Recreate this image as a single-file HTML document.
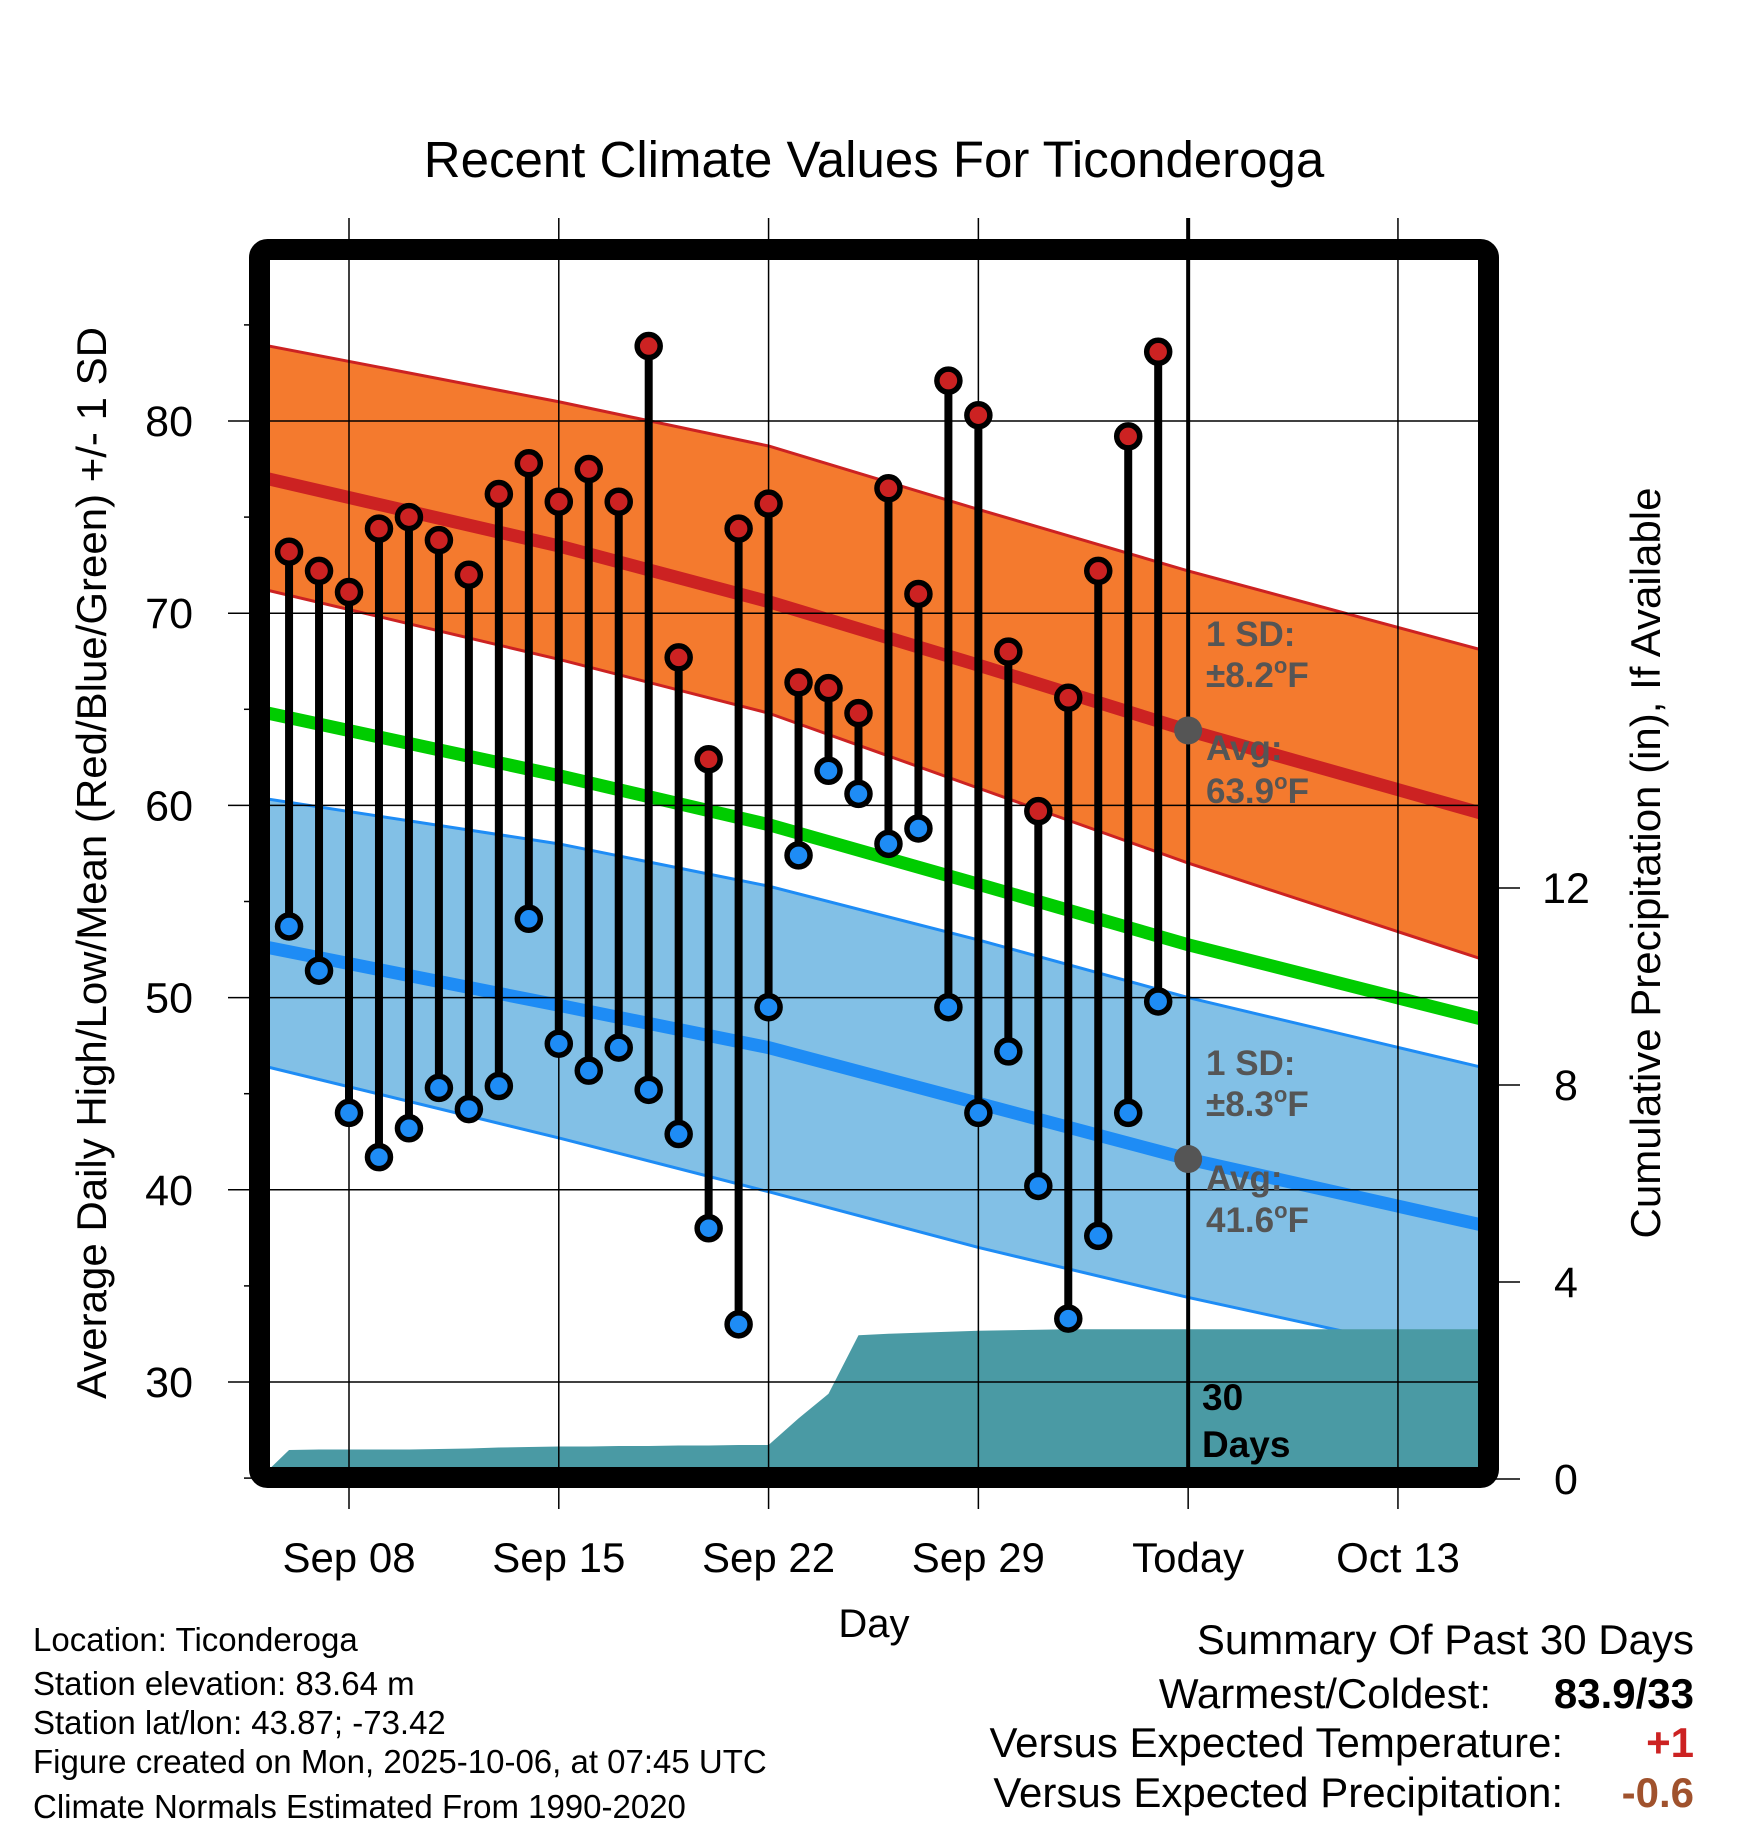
<!DOCTYPE html>
<html><head><meta charset="utf-8">
<style>
html,body{margin:0;padding:0;background:#fff;}
svg{display:block;font-family:"Liberation Sans",Arial,sans-serif;}
</style></head>
<body>
<svg id="chart" width="1748" height="1828" viewBox="0 0 1748 1828" xmlns="http://www.w3.org/2000/svg">
<defs><clipPath id="plotclip"><rect x="270" y="260" width="1208" height="1208"/></clipPath></defs>
<g id="bands" clip-path="url(#plotclip)"></g>
<g id="grid"></g>
<g id="marks"></g>
<g id="frame"></g>
<g id="labels"></g>
</svg>
<script>
// ---- data ----
const days = [6,7,8,9,10,11,12,13,14,15,16,17,18,19,20,21,22,23,24,25,26,27,28,29,30,31,32,33,34,35];
const highs = [73.2,72.2,71.1,74.4,75.0,73.8,72.0,76.2,77.8,75.8,77.5,75.8,83.9,67.7,62.4,74.4,75.7,66.4,66.1,64.8,76.5,71.0,82.1,80.3,68.0,59.7,65.6,72.2,79.2,83.6];
const lows = [53.7,51.4,44.0,41.7,43.2,45.3,44.2,45.4,54.1,47.6,46.2,47.4,45.2,42.9,38.0,33.0,49.5,57.4,61.8,60.6,58.0,58.8,49.5,44.0,47.2,40.2,33.3,37.6,44.0,49.8];
const precipDays = [5,6,7,8,9,10,11,12,13,14,15,16,17,18,19,20,21,22,23,24,25,26,27,28,29,30,31,32,33,34,35,46];
const precip = [0,0.59,0.6,0.6,0.6,0.6,0.61,0.62,0.64,0.65,0.66,0.66,0.67,0.67,0.68,0.68,0.69,0.69,1.23,1.73,2.92,2.95,2.97,2.99,3.01,3.02,3.03,3.04,3.04,3.04,3.04,3.04];
const normDays = [5,15,22,29,36,46];
const normHigh = [77.1,73.5,70.6,67.3,63.9,59.5];
const highUpper = [84.0,81.0,78.7,75.4,72.2,68.0];
const highLower = [71.3,67.6,64.8,60.9,57.0,51.9];
const normLow = [52.7,49.6,47.4,44.5,41.6,38.1];
const lowUpper = [60.4,58.0,55.8,53.0,50.0,46.3];
const lowLower = [46.5,42.7,39.9,37.0,34.4,31.0];
const tempTicks = [30,40,50,60,70,80];
const precipTicks = [0,4,8,12];
const xTickDays = [8,15,22,29,36,43];
const xTickLabels = ["Sep 08","Sep 15","Sep 22","Sep 29","Today","Oct 13"];
const todayDay = 36;

// ---- axes ----
const X = d => 349 + (d-8)*29.97;
const Y = t => 421 + (80-t)*19.22;
const P = p => 1479 - p*49.25;
const NS = "http://www.w3.org/2000/svg";
function mk(tag, attrs, parent, text){
  const e = document.createElementNS(NS, tag);
  for (const k in attrs) e.setAttribute(k, attrs[k]);
  if (text !== undefined) e.textContent = text;
  parent.appendChild(e); return e;
}
const bands = document.getElementById('bands');
const grid = document.getElementById('grid');
const marks = document.getElementById('marks');
const frame = document.getElementById('frame');
const labels = document.getElementById('labels');
const R = 46;
function band(up, lo){
  const a = normDays.map((d,i)=>X(d)+','+Y(up[i]));
  const b = normDays.map((d,i)=>X(d)+','+Y(lo[i])).reverse();
  return a.concat(b).join(' ');
}
function line(vals){ return normDays.map((d,i)=>X(d)+','+Y(vals[i])).join(' '); }

let e;
e = mk('polygon',{points:band(highUpper,highLower),fill:'#f47a2e'},bands);
 
e = mk('polygon',{points:band(lowUpper,lowLower),fill:'#82c0e6'},bands);
 
[[highUpper,'#cc2222'],[highLower,'#cc2222'],[lowUpper,'#1e8cf5'],[lowLower,'#1e8cf5']].forEach(a=>{
  e = mk('polyline',{points:line(a[0]),fill:'none',stroke:a[1],'stroke-width':3},bands);
   
});
e = mk('polyline',{points:line(normHigh),fill:'none',stroke:'#cc2222','stroke-width':13},bands);
 
e = mk('polyline',{points:line(normLow),fill:'none',stroke:'#1e8cf5','stroke-width':13},bands);
 
const meanVals = normHigh.map((h,i)=>(h+normLow[i])/2);
e = mk('polyline',{points:line(meanVals),fill:'none',stroke:'#00cc00','stroke-width':13},bands);
 
const ppts = precipDays.map((d,i)=>X(d)+','+P(precip[i]));
ppts.push(X(R)+','+P(0)); ppts.push(X(precipDays[0])+','+P(0));
e = mk('polygon',{points:ppts.join(' '),fill:'#4a9aa4'},bands);
 

// grid
xTickDays.forEach(d=>{
  e = mk('line',{x1:X(d),x2:X(d),y1:218,y2:1509,stroke:'#000','stroke-width':1.5},grid);
   
});
tempTicks.forEach(t=>{
  e = mk('line',{x1:228,x2:1478,y1:Y(t),y2:Y(t),stroke:'#000','stroke-width':1.5},grid);
   
});
for (let t=25; t<=85; t+=10){
  e = mk('line',{x1:244,x2:260,y1:Y(t),y2:Y(t),stroke:'#000','stroke-width':1.5},grid);
   
}
precipTicks.forEach(p=>{
  e = mk('line',{x1:1490,x2:1520,y1:P(p),y2:P(p),stroke:'#000','stroke-width':1.5},grid);
   
});
e = mk('line',{x1:X(todayDay),x2:X(todayDay),y1:218,y2:1478,stroke:'#000','stroke-width':4},grid);
 

// stems and dots
days.forEach((d,i)=>{
  e = mk('line',{x1:X(d),x2:X(d),y1:Y(highs[i]),y2:Y(lows[i]),stroke:'#000','stroke-width':8},marks);
   
});
days.forEach((d,i)=>{
  e = mk('circle',{cx:X(d),cy:Y(highs[i]),r:11.5,fill:'#cc2222',stroke:'#000','stroke-width':5.5},marks);
   
  e = mk('circle',{cx:X(d),cy:Y(lows[i]),r:11.5,fill:'#1e8cf5',stroke:'#000','stroke-width':5.5},marks);
   
});
e = mk('circle',{cx:X(todayDay),cy:Y(normHigh[4]),r:14,fill:'#555'},marks);
 
e = mk('circle',{cx:X(todayDay),cy:Y(normLow[4]),r:14,fill:'#555'},marks);
 

// frame
e = mk('rect',{x:259.5,y:249.5,width:1229,height:1228,rx:8,fill:'none',stroke:'#000','stroke-width':21},frame);
 

// labels
tempTicks.forEach(t=>{
  e = mk('text',{x:193,y:Y(t)+15,'text-anchor':'end','font-size':43},labels,String(t));
   
});
precipTicks.forEach(p=>{
  e = mk('text',{x:1566,y:P(p)+15,'text-anchor':'middle','font-size':43},labels,String(p));
   
});
xTickDays.forEach((d,i)=>{
  e = mk('text',{x:X(d),y:1572,'text-anchor':'middle','font-size':42},labels,xTickLabels[i]);
   
});
</script>
<script>
const lab = document.getElementById('labels');
lab.insertAdjacentHTML('beforeend', `
<text x="874" y="177" text-anchor="middle" font-size="51">Recent Climate Values For Ticonderoga</text>
<text transform="translate(106,863) rotate(-90)" text-anchor="middle" font-size="42">Average Daily High/Low/Mean (Red/Blue/Green) +/- 1 SD</text>
<text transform="translate(1660,863) rotate(-90)" text-anchor="middle" font-size="42">Cumulative Precipitation (in), If Available</text>
<text x="874" y="1637" text-anchor="middle" font-size="40">Day</text>
<g font-weight="bold" font-size="35" fill="#555">
<text x="1206" y="646">1 SD:</text>
<text x="1206" y="687">±8.2<tspan font-size="22" dy="-14">o</tspan><tspan dy="14">F</tspan></text>
<text x="1206" y="760">Avg:</text>
<text x="1206" y="803">63.9<tspan font-size="22" dy="-14">o</tspan><tspan dy="14">F</tspan></text>
<text x="1206" y="1075">1 SD:</text>
<text x="1206" y="1116">±8.3<tspan font-size="22" dy="-14">o</tspan><tspan dy="14">F</tspan></text>
<text x="1206" y="1190">Avg:</text>
<text x="1206" y="1232">41.6<tspan font-size="22" dy="-14">o</tspan><tspan dy="14">F</tspan></text>
</g>
<text x="1202" y="1410" font-weight="bold" font-size="37">30</text>
<text x="1202" y="1457" font-weight="bold" font-size="37">Days</text>
<g font-size="33">
<text x="33" y="1651">Location: Ticonderoga</text>
<text x="33" y="1695">Station elevation: 83.64 m</text>
<text x="33" y="1734">Station lat/lon: 43.87; -73.42</text>
<text x="33" y="1773">Figure created on Mon, 2025-10-06, at 07:45 UTC</text>
<text x="33" y="1818">Climate Normals Estimated From 1990-2020</text>
</g>
<g font-size="42" text-anchor="end">
<text x="1694" y="1654">Summary Of Past 30 Days</text>
<text x="1491" y="1708">Warmest/Coldest:</text>
<text x="1694" y="1708" font-weight="bold">83.9/33</text>
<text x="1563" y="1757">Versus Expected Temperature:</text>
<text x="1694" y="1757" font-weight="bold" fill="#cc2222">+1</text>
<text x="1563" y="1807">Versus Expected Precipitation:</text>
<text x="1694" y="1807" font-weight="bold" fill="#a0522d">-0.6</text>
</g>`);
</script>
</body></html>
